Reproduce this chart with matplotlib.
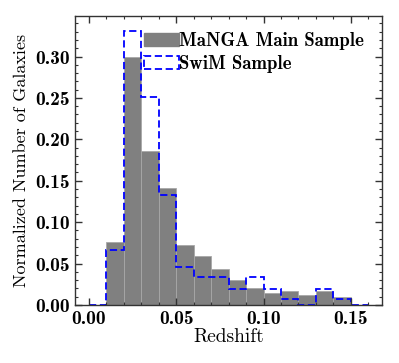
import numpy as np
import matplotlib
matplotlib.use('Agg')
import matplotlib.pyplot as plt
from matplotlib.patches import Patch
from matplotlib.ticker import MultipleLocator, FormatStrFormatter

# bin edges in redshift
bin_edges = np.round(np.arange(0.0, 0.1601, 0.01), 3)

# normalized counts per bin
manga_main = [0.0, 0.0757, 0.299, 0.1865, 0.141, 0.0725, 0.0592, 0.0439,
              0.0306, 0.0201, 0.0141, 0.0173, 0.0125, 0.0173, 0.0093, 0.0]
swim = [0.0, 0.0665, 0.331, 0.2517, 0.133, 0.0463, 0.0334, 0.0334,
        0.0197, 0.0334, 0.0197, 0.0068, 0.0, 0.0197, 0.0068, 0.0]

plt.rcParams['axes.unicode_minus'] = False

fig = plt.figure(figsize=(3.99, 3.63), dpi=100)
ax = fig.add_axes([0.188, 0.160, 0.770, 0.796])

ax.bar(bin_edges[:-1], manga_main, width=0.01, align='edge', color='#808080',
       edgecolor='#a8a8a8', linewidth=0.6)
ax.stairs(swim, bin_edges, color='blue', linestyle=(0, (4, 2)), linewidth=1.3)

ax.set_xlim(-0.008, 0.168)
ax.set_ylim(0, 0.349)
ax.xaxis.set_major_locator(MultipleLocator(0.05))
ax.xaxis.set_minor_locator(MultipleLocator(0.01))
ax.yaxis.set_major_locator(MultipleLocator(0.05))
ax.yaxis.set_minor_locator(MultipleLocator(0.01))
ax.xaxis.set_major_formatter(FormatStrFormatter('%.2f'))
ax.yaxis.set_major_formatter(FormatStrFormatter('%.2f'))

ax.tick_params(which='both', direction='in', top=True, right=True, color='#333333')
ax.tick_params(which='major', length=5, width=1.0, pad=4)
ax.tick_params(which='minor', length=2.5, width=0.8)
for lab in ax.get_xticklabels() + ax.get_yticklabels():
    lab.set_fontfamily('cmb10')
    lab.set_fontsize(14)
for sp in ax.spines.values():
    sp.set_color('#333333')
    sp.set_linewidth(1.0)

ax.set_xlabel('Redshift', fontfamily='cmr10', fontsize=14, labelpad=0)
ax.set_ylabel('Normalized Number of Galaxies', fontfamily='cmr10', fontsize=13, labelpad=4)

handles = [Patch(facecolor='#808080', edgecolor='#808080'),
           Patch(facecolor='none', edgecolor='blue', linestyle=(0, (4, 2)), linewidth=1.3)]
ax.legend(handles, ['MaNGA Main Sample', 'SwiM Sample'], loc='upper right',
          bbox_to_anchor=(0.94, 0.943), frameon=False,
          prop={'family': 'cmb10', 'size': 13.5},
          handlelength=1.85, handletextpad=0.0, borderaxespad=0.0, borderpad=0.0,
          labelspacing=0.25)

fig.savefig('out.png', dpi=100)
